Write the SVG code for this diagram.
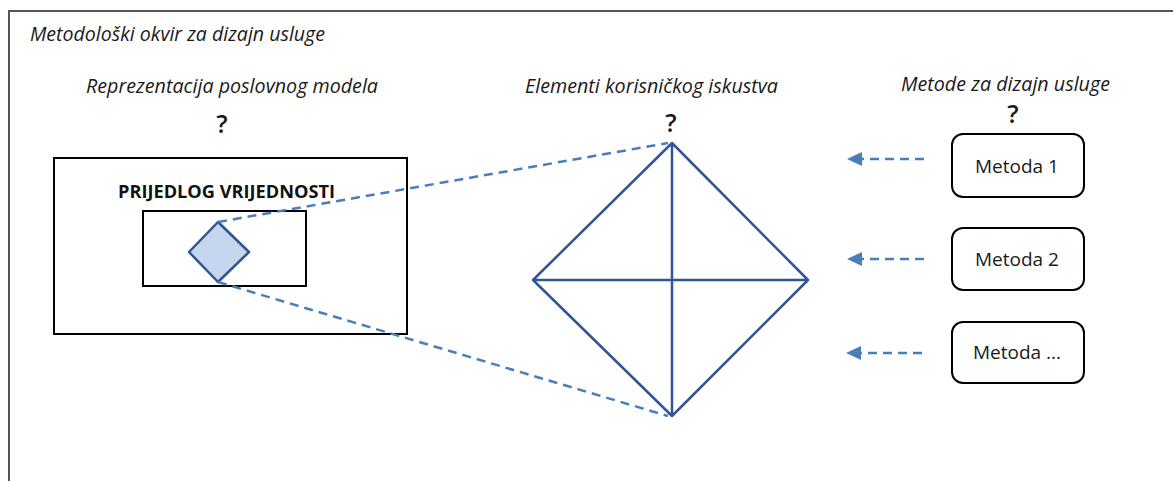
<svg xmlns="http://www.w3.org/2000/svg" width="1173" height="481" viewBox="0 0 1173 481">
<defs>
<style>
.it{font-family:"Open Sans","Liberation Sans",sans-serif;font-style:italic;font-size:19.5px;fill:#1a1a1a}
.q{font-family:"Open Sans","Liberation Sans",sans-serif;font-size:25px;font-weight:600;fill:#1a1a1a;text-anchor:middle}
.box{fill:#fff;stroke:#000;stroke-width:2}
.rbox{fill:#fff;stroke:#000;stroke-width:2}
.lbl{font-family:"Open Sans","Liberation Sans",sans-serif;font-size:19px;fill:#1a1a1a;text-anchor:middle}
.dash{stroke:#4A7EBB;stroke-width:2.5;stroke-dasharray:9 6;fill:none}
.blue{stroke:#2F5597;stroke-width:2.5;fill:none}
</style>
<marker id="ah" viewBox="0 0 15 14" refX="0" refY="7" markerWidth="15" markerHeight="14" markerUnits="userSpaceOnUse" orient="auto">
<path d="M0,0 L15,7 L0,14 z" fill="#4A7EBB"/>
</marker>
</defs>
<rect width="1173" height="481" fill="#fff"/>
<g id="frame">
<path d="M9,481 L9,11 L1173,11" fill="none" stroke="#555" stroke-width="2"/>
<text class="it" x="30" y="41" textLength="295" lengthAdjust="spacingAndGlyphs">Metodološki okvir za dizajn usluge</text>
</g>
<g id="business-model">
<text class="it" x="86" y="93" textLength="292" lengthAdjust="spacingAndGlyphs">Reprezentacija poslovnog modela</text>
<text class="q" x="222" y="133">?</text>
<rect class="box" x="54" y="158" width="353" height="176"/>
<text x="226.5" y="198" font-family="'Open Sans','Liberation Sans',sans-serif" font-weight="bold" font-size="18" text-anchor="middle" fill="#111" textLength="217" lengthAdjust="spacingAndGlyphs">PRIJEDLOG VRIJEDNOSTI</text>
<rect class="box" x="143" y="211" width="163" height="75"/>
<path d="M218,222 L249,252 L218,282 L189,252 Z" fill="#C5D6EE" stroke="#2F5597" stroke-width="2.5" stroke-linejoin="round"/>
</g>
<g id="ux-elements">
<text class="it" x="525" y="93" textLength="253" lengthAdjust="spacingAndGlyphs">Elementi korisničkog iskustva</text>
<text class="q" x="671" y="132">?</text>
<path class="blue" d="M672,143 L808,280 L672,416 L533,280 Z M672,143 L672,416 M533,280 L808,280" stroke-linejoin="round"/>
</g>
<g id="methods">
<text class="it" x="901" y="91" textLength="209" lengthAdjust="spacingAndGlyphs">Metode za dizajn usluge</text>
<text class="q" x="1013" y="123">?</text>
</g>
<g id="metoda-1">
<rect class="rbox" x="952" y="134" width="132" height="63" rx="11"/>
<text class="lbl" x="1017" y="173">Metoda 1</text>
</g>
<g id="metoda-2">
<rect class="rbox" x="952" y="228" width="132" height="62" rx="11"/>
<text class="lbl" x="1017" y="266">Metoda 2</text>
</g>
<g id="metoda-3">
<rect class="rbox" x="952" y="322" width="132" height="61" rx="11"/>
<text class="lbl" x="1017" y="359">Metoda ...</text>
</g>
<g id="connectors">
<path class="dash" d="M924,159 L862,159" marker-end="url(#ah)"/>
<path class="dash" d="M924,259 L862,259" marker-end="url(#ah)"/>
<path class="dash" d="M922,353 L861,353" marker-end="url(#ah)"/>
<path class="dash" d="M218,222 L668,143"/>
<path class="dash" d="M218,282 L668,416"/>
</g>
</svg>
